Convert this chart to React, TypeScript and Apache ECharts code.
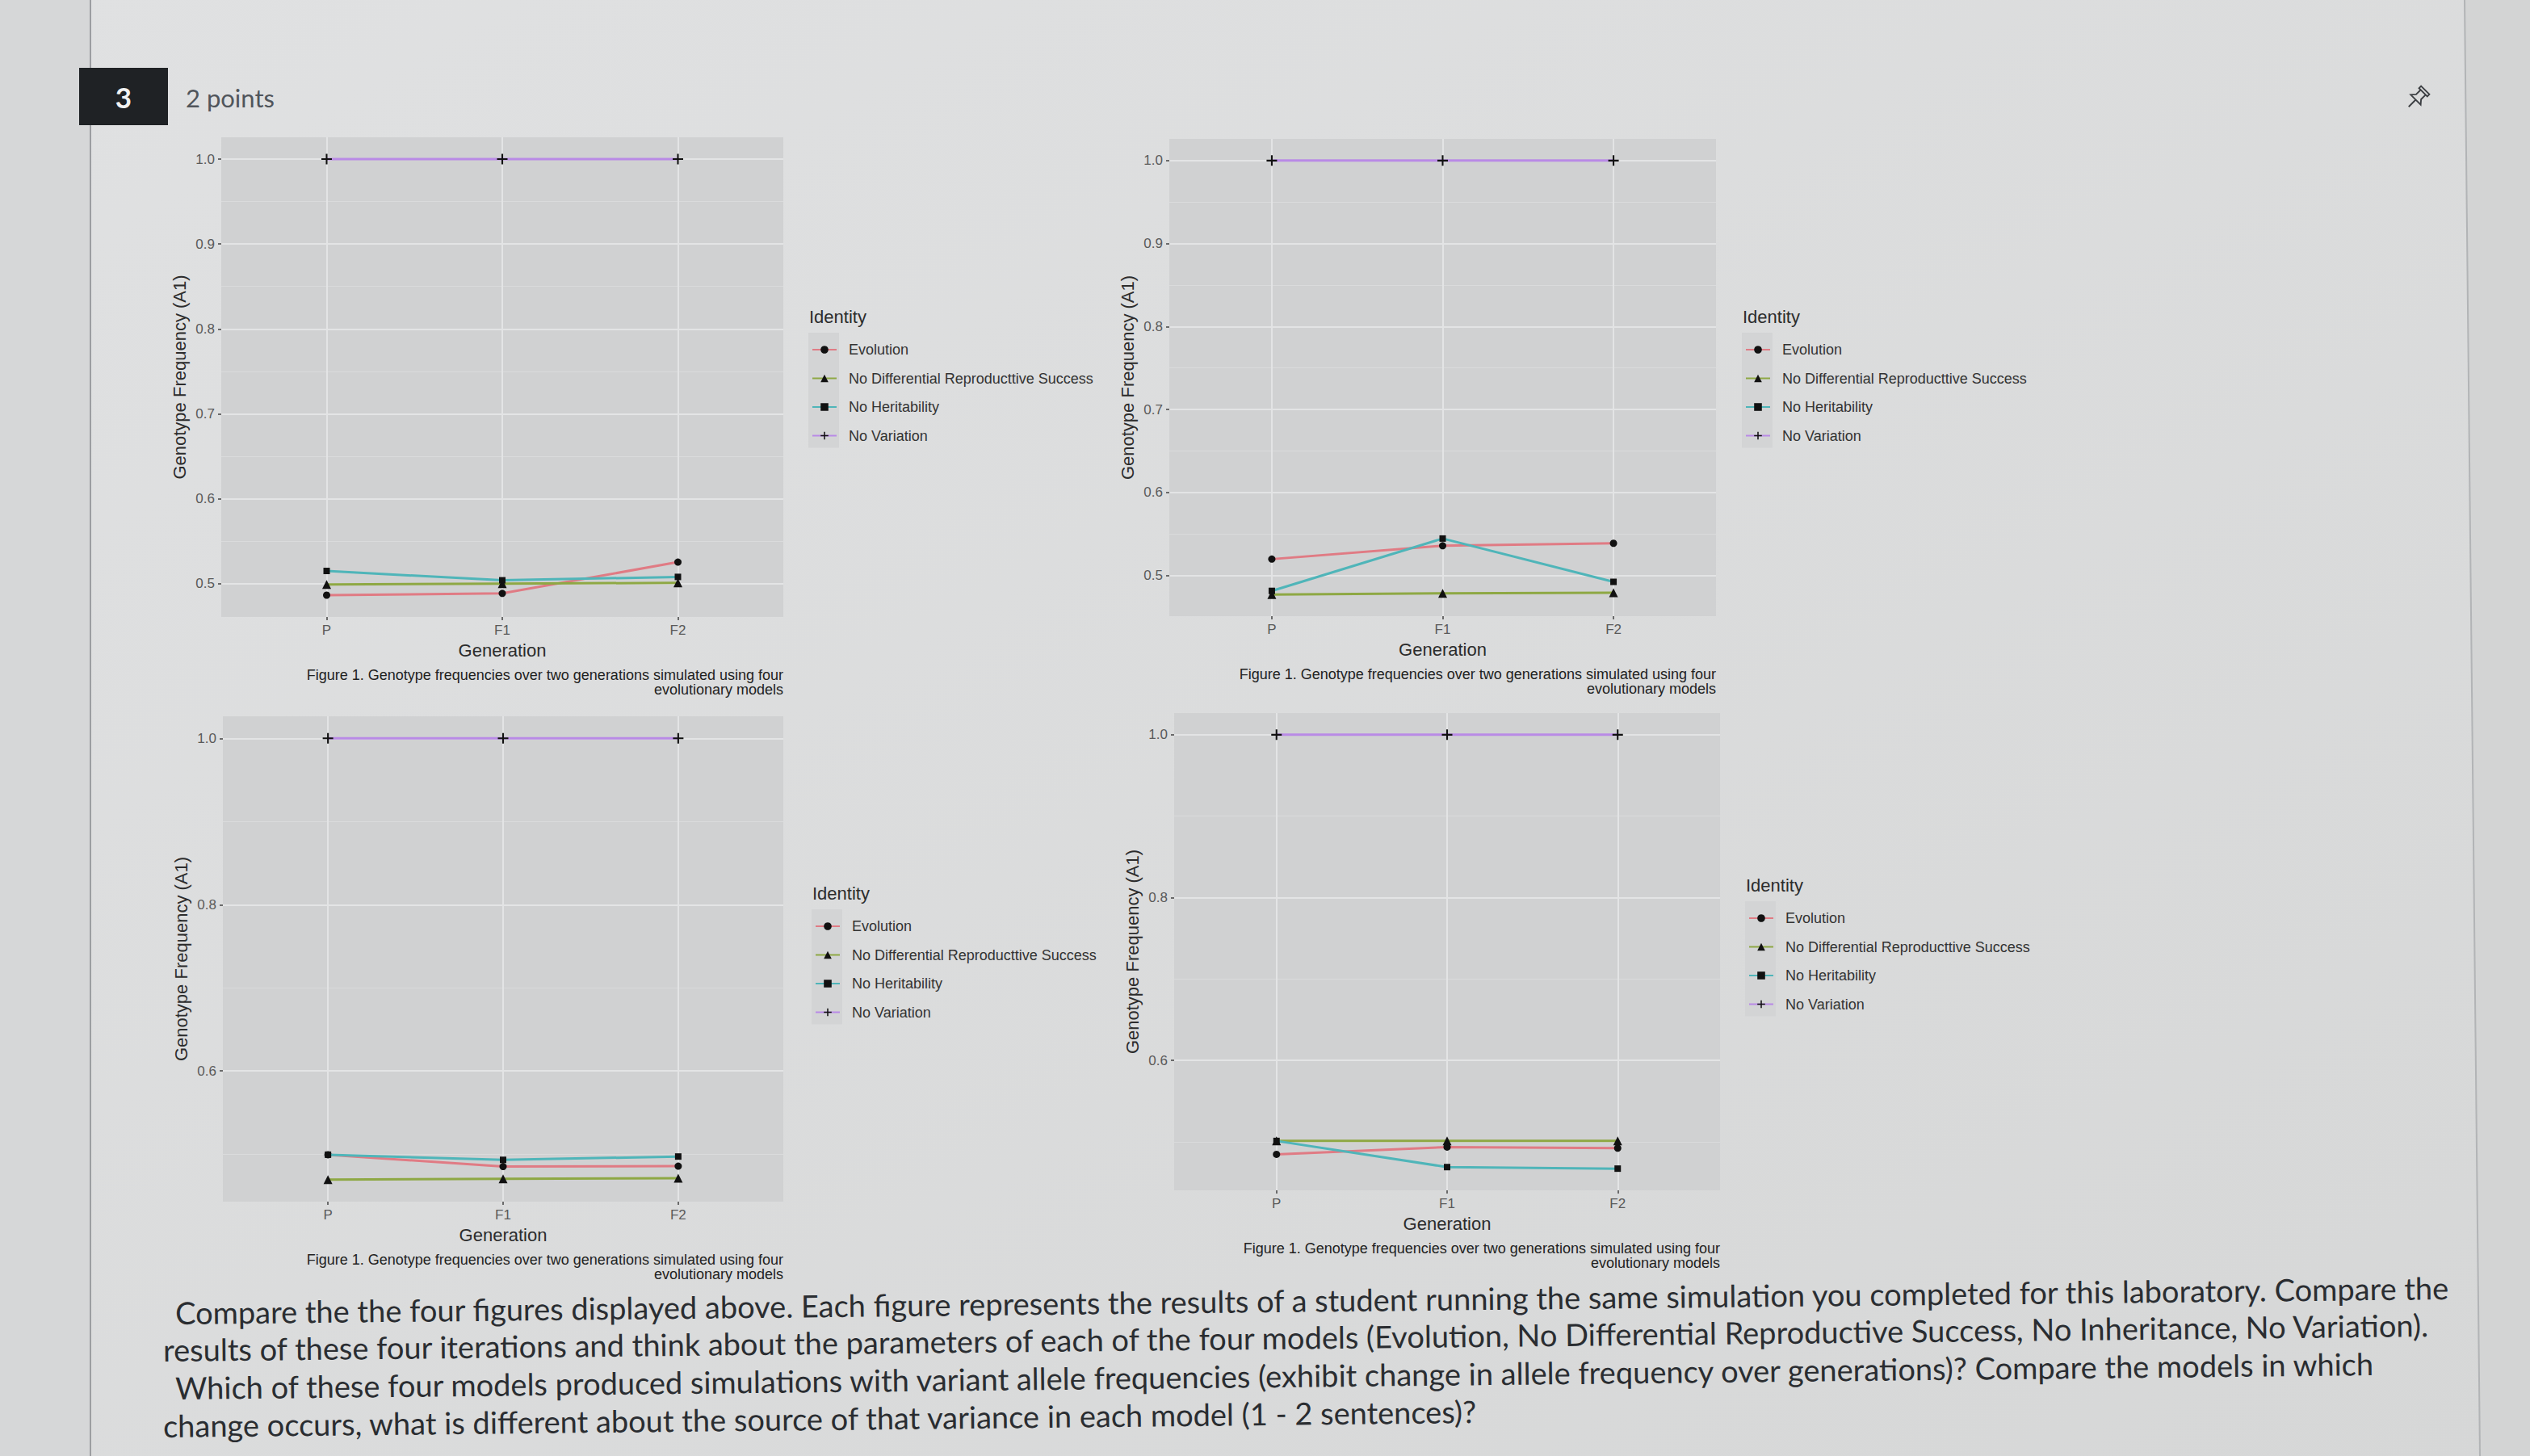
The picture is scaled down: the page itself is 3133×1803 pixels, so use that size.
import React, { useEffect, useRef } from "react";
import * as echarts from "echarts";

// ---------- DATA ----------
const generations = ["P", "F1", "F2"];
const identities = [
  "Evolution",
  "No Differential Reproducttive Success",
  "No Heritability",
  "No Variation",
];

// Figure A (top-left)
const figA_evolution = [0.4865, 0.4886, 0.5254];
const figA_noDRS = [0.499, 0.5, 0.501];
const figA_noHeritability = [0.515, 0.504, 0.508];
const figA_noVariation = [1.0, 1.0, 1.0];

// Figure B (top-right)
const figB_evolution = [0.5196, 0.5357, 0.5387];
const figB_noDRS = [0.477, 0.4783, 0.479];
const figB_noHeritability = [0.4813, 0.5444, 0.4922];
const figB_noVariation = [1.0, 1.0, 1.0];

// Figure C (bottom-left)
const figC_evolution = [0.4993, 0.485, 0.4855];
const figC_noDRS = [0.4694, 0.4702, 0.4711];
const figC_noHeritability = [0.4993, 0.4931, 0.4971];
const figC_noVariation = [1.0, 1.0, 1.0];

// Figure D (bottom-right)
const figD_evolution = [0.4846, 0.4935, 0.4922];
const figD_noDRS = [0.5011, 0.5011, 0.5011];
const figD_noHeritability = [0.501, 0.4689, 0.467];
const figD_noVariation = [1.0, 1.0, 1.0];

const yTicksFine = [0.5, 0.6, 0.7, 0.8, 0.9, 1.0];
const yMinorFine = [0.45, 0.55, 0.65, 0.75, 0.85, 0.95];
const yTicksCoarse = [0.6, 0.8, 1.0];
const yMinorCoarse = [0.5, 0.7, 0.9];

const xTitle = "Generation";
const yTitle = "Genotype Frequency (A1)";
const legendTitle = "Identity";
const captionLine1 = "Figure 1. Genotype frequencies over two generations simulated using four";
const captionLine2 = "evolutionary models";
const questionLines = [
  "Compare the the four figures displayed above. Each figure represents the results of a student running the same simulation you completed for this laboratory. Compare the",
  "results of these four iterations and think about the parameters of each of the four models (Evolution, No Differential Reproductive Success, No Inheritance, No Variation).",
  "Which of these four models produced simulations with variant allele frequencies (exhibit change in allele frequency over generations)? Compare the models in which",
  "change occurs, what is different about the source of that variance in each model (1 - 2 sentences)?",
];

const figures = [
  { series: [figA_evolution, figA_noDRS, figA_noHeritability, figA_noVariation], ticks: yTicksFine, minor: yMinorFine },
  { series: [figB_evolution, figB_noDRS, figB_noHeritability, figB_noVariation], ticks: yTicksFine, minor: yMinorFine },
  { series: [figC_evolution, figC_noDRS, figC_noHeritability, figC_noVariation], ticks: yTicksCoarse, minor: yMinorCoarse },
  { series: [figD_evolution, figD_noDRS, figD_noHeritability, figD_noVariation], ticks: yTicksCoarse, minor: yMinorCoarse },
];

// ---------- STYLE / LAYOUT ----------
const lineColors = ["#e07b84", "#8ea844", "#4fb5b9", "#b98ae6"];
const symbols = [
  "circle",
  "triangle",
  "rect",
  "path://M4.2,0H5.8V4.2H10V5.8H5.8V10H4.2V5.8H0V4.2H4.2Z",
];
const symbolSizes = [9, 11, 8, 13];

const PLOT_FONT = "'Liberation Sans', Arial, sans-serif";
const PAGE_FONT = "Lato, 'Open Sans', sans-serif";
const panelBg = "#d0d1d2";
const gridMajor = "#e3e4e5";
const gridMinor = "#dadbdc";

const layout = [
  { left: 274, top: 170, width: 696, height: 594, legendX: 1005, legendY: 430 },
  { left: 1448, top: 172, width: 677, height: 591, legendX: 2161, legendY: 430 },
  { left: 276, top: 887, width: 694, height: 601, legendX: 1009, legendY: 1144 },
  { left: 1454, top: 883, width: 676, height: 591, legendX: 2165, legendY: 1134 },
];
const legendPitch = 35.5;

const PIN_D = "M7 2H17V4.5H7Z M9 4.5V10L6 13.5H18L15 10V4.5 M12 13.5V22";

function buildOption() {
  const grids: any[] = [];
  const xAxes: any[] = [];
  const yAxes: any[] = [];
  const series: any[] = [];
  const legends: any[] = [];
  const graphics: any[] = [];

  // page decorations
  graphics.push(
    { type: "rect", shape: { x: 0, y: 0, width: 112, height: 1803 }, style: { fill: "#d6d7d8" }, z: -10 },
    { type: "polygon", shape: { points: [[3052, 0], [3133, 0], [3133, 1803], [3071, 1803]] }, style: { fill: "#d3d4d4" }, z: -10 },
    { type: "line", shape: { x1: 112, y1: 0, x2: 112, y2: 1803 }, style: { stroke: "#9c9ea1", lineWidth: 2 }, z: -5 },
    { type: "line", shape: { x1: 3052, y1: 0, x2: 3071, y2: 1803 }, style: { stroke: "#b2b4b6", lineWidth: 2 }, z: -5 },
    { type: "rect", shape: { x: 98, y: 84, width: 110, height: 71 }, style: { fill: "#1f2225" } },
    { type: "text", x: 153, y: 120, style: { text: "3", fontSize: 35, fontWeight: "bold", fontFamily: PAGE_FONT, fill: "#f2f2f2", align: "center", verticalAlign: "middle" } },
    { type: "text", x: 230, y: 121, style: { text: "2 points", fontSize: 31, fontFamily: PAGE_FONT, fill: "#50555b", align: "left", verticalAlign: "middle" } },
    {
      type: "group", x: 2993, y: 122, rotation: -Math.PI / 4,
      children: [
        { type: "pin", x: -12 * 1.45, y: -12 * 1.45, scaleX: 1.45, scaleY: 1.45, style: { fill: "none", stroke: "#3c3f43", lineWidth: 1.3 } },
      ],
    }
  );

  const qPos = [
    [217, 1625],
    [202, 1671],
    [217, 1718],
    [202, 1765],
  ];
  questionLines.forEach((t, i) => {
    graphics.push({
      type: "text", x: qPos[i][0], y: qPos[i][1], rotation: 0.0114,
      style: { text: t, fontSize: 38, fontFamily: PAGE_FONT, fill: "#2a2d31", align: "left", verticalAlign: "middle" },
    });
  });

  figures.forEach((fig, gi) => {
    const L = layout[gi];
    const all = fig.series.flat();
    const mn = Math.min(...all);
    const mx = Math.max(...all);
    const pad = (mx - mn) * 0.05;
    const lo = mn - pad;
    const hi = mx + pad;

    grids.push({
      left: L.left, top: L.top, width: L.width, height: L.height,
      show: true, backgroundColor: panelBg, borderWidth: 0, containLabel: false, outerBoundsMode: "none",
    });

    xAxes.push({
      type: "value", gridIndex: gi, min: 0.4, max: 3.6,
      axisLine: { show: false },
      axisTick: { show: true, length: 4, customValues: [1, 2, 3], lineStyle: { color: "#444", width: 1.5 } },
      axisLabel: {
        customValues: [1, 2, 3], margin: 8, fontSize: 17, color: "#5a5a5a", fontFamily: PLOT_FONT,
        formatter: (v: number) => generations[Math.round(v) - 1] ?? "",
      },
      splitLine: { show: true, lineStyle: { color: gridMajor, width: 2 } },
      name: xTitle, nameLocation: "middle", nameGap: 30, nameMoveOverlap: false,
      nameTextStyle: { fontSize: 22, color: "#2c2c2c", fontFamily: PLOT_FONT },
    });

    yAxes.push({
      type: "value", gridIndex: gi, min: lo, max: hi, position: "left",
      axisLine: { show: false },
      axisTick: { show: true, length: 4, customValues: fig.ticks, lineStyle: { color: "#444", width: 1.5 } },
      axisLabel: {
        customValues: fig.ticks, margin: 8, fontSize: 17, color: "#5a5a5a", fontFamily: PLOT_FONT,
        formatter: (v: number) => v.toFixed(1),
      },
      splitLine: { show: true, lineStyle: { color: gridMajor, width: 2 } },
      name: yTitle, nameLocation: "middle", nameGap: 41, nameMoveOverlap: false,
      nameTextStyle: { fontSize: 22, color: "#2c2c2c", fontFamily: PLOT_FONT },
    });
    yAxes.push({
      type: "value", gridIndex: gi, min: lo, max: hi, position: "left",
      axisLine: { show: false },
      axisTick: { show: false, customValues: fig.minor },
      axisLabel: { show: false, customValues: fig.minor },
      splitLine: { show: true, lineStyle: { color: gridMinor, width: 1 } },
    });

    fig.series.forEach((vals, si) => {
      series.push({
        type: "line",
        name: identities[si],
        xAxisIndex: gi,
        yAxisIndex: gi * 2,
        data: generations.map((g, k) => [k + 1, vals[k]]),
        symbol: symbols[si],
        symbolSize: symbolSizes[si],
        showSymbol: true,
        lineStyle: { color: lineColors[si], width: 3 },
        itemStyle: { color: "#111" },
        z: 2 + si,
      });
    });

    legends.push({
      orient: "vertical", left: L.legendX, top: L.legendY - 6, padding: 0,
      itemGap: legendPitch - 18, itemWidth: 30, itemHeight: 12, selectedMode: false,
      data: identities,
      textStyle: { fontSize: 18, lineHeight: 18, color: "#333", fontFamily: PLOT_FONT, padding: [0, 0, 0, 10] },
    });

    graphics.push(
      {
        type: "rect", z: -1,
        shape: { x: L.legendX - 4, y: L.legendY - 18, width: 38, height: legendPitch * 3 + 36 },
        style: { fill: "#d3d4d5" },
      },
      {
        type: "text", x: L.legendX - 3, y: L.legendY - 38,
        style: { text: legendTitle, fontSize: 22, fontFamily: PLOT_FONT, fill: "#2c2c2c", align: "left", verticalAlign: "middle" },
      },
      {
        type: "text", x: L.left + L.width, y: L.top + L.height + 72,
        style: { text: captionLine1, fontSize: 18, fontFamily: PLOT_FONT, fill: "#222", align: "right", verticalAlign: "middle" },
      },
      {
        type: "text", x: L.left + L.width, y: L.top + L.height + 90,
        style: { text: captionLine2, fontSize: 18, fontFamily: PLOT_FONT, fill: "#222", align: "right", verticalAlign: "middle" },
      }
    );
  });

  return {
    animation: false,
    backgroundColor: {
      type: "linear", x: 0, y: 0, x2: 1, y2: 1,
      colorStops: [
        { offset: 0, color: "#e0e1e2" },
        { offset: 1, color: "#d6d7d7" },
      ],
    },
    grid: grids,
    xAxis: xAxes,
    yAxis: yAxes,
    legend: legends,
    series,
    graphic: { elements: graphics },
  };
}

export default function App() {
  const ref = useRef<HTMLDivElement>(null);
  useEffect(() => {
    if (!ref.current) return;
    echarts.graphic.registerShape("pin", echarts.graphic.extendPath(PIN_D, {}));
    const chart = echarts.init(ref.current, null, { renderer: "svg" });
    chart.setOption(buildOption() as any);
    return () => chart.dispose();
  }, []);
  return (
    <div
      ref={ref}
      style={{ position: "absolute", left: 0, top: 0, width: 3133, height: 1803 }}
    />
  );
}
